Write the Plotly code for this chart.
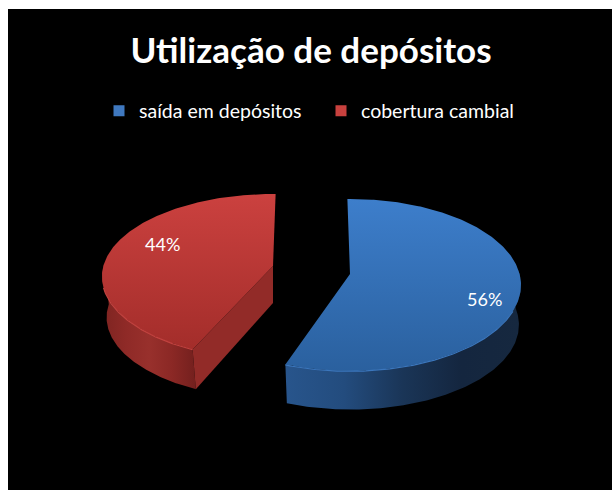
import numpy as np
import plotly.graph_objects as go

# ---- data ----
categories = ["saída em depósitos", "cobertura cambial"]
percent_values = [56, 44]
title_text = "Utilização de depósitos"

# ---- style / projection of the exploded 3-D pie (pixel-like axis units) ----
W, H = 612, 490
LEFT, TOP = 8, 9
A, B, K = 169.6, 84.6, 0.1278      # perspective ellipse parameters
centres = [(350, 274), (273, 266)]  # explosion of each slice
depth = [40, 41]
y_scale = [1.0, 0.96]
span_stretch = [0.99, 0.98]         # perspective tweak of the slice angle
outer_rot = [-1.0, 1.0]             # lean of the rear cut edge
top_grad = [["#3D7ECB", "#2A609E"], ["#CB413F", "#A32D2A"]]
side_grad = [
    ["#28558C", "#234C7E", "#1A3557", "#14263F", "#16283F"],
    ["#7E2421", "#8F2A27", "#98302C", "#8B2825", "#74201E"],
]
rim = ["#3B76BC", "#C2423F"]
cut_face = "#922B28"
legend_marks = ["#3F78BF", "#C8413E"]


def px(x):
    return (x - LEFT) / (W - LEFT)


def py(y):
    return 1 - (y - TOP) / (H - TOP)


def project(theta_deg, cx, cy, scale=1.0, ys=1.0):
    t = np.radians(theta_deg)
    Y = np.cos(t)
    X = np.sin(t)
    w = 1 + K * Y
    return cx + scale * A * X / w, cy - ys * scale * B * Y / w


total = sum(percent_values)
cum = np.cumsum([0] + percent_values) / total * 360
spans = []
for i, v in enumerate(percent_values):
    s = v / total * 360 * span_stretch[i]
    if i == 1:
        spans.append((cum[i + 1] - s, cum[i + 1] + outer_rot[i]))
    else:
        spans.append((cum[i] + outer_rot[i], cum[i] + s))

fig = go.Figure()


def poly(xs, ys, colours, kind, lo, hi):
    n = len(colours)
    fig.add_trace(go.Scatter(
        x=xs, y=ys, mode="lines", line=dict(width=0), fill="toself",
        fillgradient=dict(
            type=kind, start=lo, stop=hi,
            colorscale=[[j / (n - 1), c] for j, c in enumerate(colours)],
        ),
        hoverinfo="skip", showlegend=False,
    ))


# blue slice
a0, a1 = spans[0]
cx, cy = centres[0]
d = depth[0]
ys = y_scale[0]
th = np.linspace(a0, a1, 240)
tx, ty = project(th, cx, cy, ys=ys)
sth = np.linspace(86, a1, 160)
sx, sy = project(sth, cx, cy, ys=ys)
bx, by = project(sth, cx + 0.5, cy + d, 0.985, ys)
poly(np.r_[sx, bx[::-1]], np.r_[sy, by[::-1]], side_grad[0], "horizontal", 285, 520)
poly(np.r_[cx, tx, cx], np.r_[cy, ty, cy], top_grad[0], "vertical", 199, 372)
fig.add_trace(go.Scatter(x=sx[40:], y=sy[40:] + 0.3, mode="lines",
                         line=dict(color=rim[0], width=1.2), hoverinfo="skip", showlegend=False))

# red slice
a0, a1 = spans[1]
cx, cy = centres[1]
d = depth[1]
ys = y_scale[1]
th = np.linspace(a0, a1, 240)
tx, ty = project(th, cx, cy, ys=ys)
sth = np.linspace(a0, 272, 160)
sx, sy = project(sth, cx, cy, ys=ys)
bx, by = project(sth, cx + 2, cy + d, 0.985, ys)
poly(np.r_[sx, bx[::-1]], np.r_[sy, by[::-1]], side_grad[1], "horizontal", 103, 195)
tipx, tipy = project(a0, cx, cy, ys=ys)
btipx, btipy = project(a0, cx + 2, cy + d, 0.985, ys)
fig.add_trace(go.Scatter(
    x=[cx, tipx, btipx, cx, cx], y=[cy, tipy, btipy, cy + 37, cy],
    mode="lines", line=dict(width=0), fill="toself", fillcolor=cut_face,
    hoverinfo="skip", showlegend=False))
poly(np.r_[cx, tx, cx], np.r_[cy, ty, cy], top_grad[1], "vertical", 194, 350)
fig.add_trace(go.Scatter(x=sx[:120], y=sy[:120] + 0.3, mode="lines",
                         line=dict(color=rim[1], width=1.2), hoverinfo="skip", showlegend=False))

# legend entries
for name, col in zip(categories, legend_marks):
    fig.add_trace(go.Scatter(
        x=[None], y=[None], mode="markers", name=name,
        marker=dict(symbol="square", size=11, color=col),
    ))

# data labels
label_pos = [(484, 299), (162, 244)]
annotations = [
    dict(text=f"{v}%", x=px(p[0]), y=py(p[1]), xref="paper", yref="paper",
         xanchor="center", yanchor="middle",
         showarrow=False, font=dict(size=18, color="white", family="Lato"))
    for v, p in zip(percent_values, label_pos)
]

fig.update_layout(
    width=W, height=H, autosize=False,
    margin=dict(l=LEFT, t=TOP, r=0, b=0, pad=0),
    paper_bgcolor="white", plot_bgcolor="black",
    title=dict(text=title_text, x=px(311), xref="paper", xanchor="center",
               y=py(51), yref="paper", yanchor="middle",
               font=dict(family="Lato", size=35, color="white", weight=700)),
    xaxis=dict(range=[LEFT, W], visible=False, fixedrange=True),
    yaxis=dict(range=[H, TOP], visible=False, fixedrange=True),
    legend=dict(orientation="h", x=px(99), xref="paper", xanchor="left",
                y=py(111), yref="paper", yanchor="middle",
                bgcolor="rgba(0,0,0,0)", entrywidth=177, entrywidthmode="pixels",
                font=dict(family="Lato", size=19.5, color="white"),
                itemwidth=30),
    annotations=annotations,
    hovermode=False,
)

fig.write_html("out.html", config={"displayModeBar": False},
               post_script="document.body.style.margin='0';document.documentElement.style.overflow='hidden';")
